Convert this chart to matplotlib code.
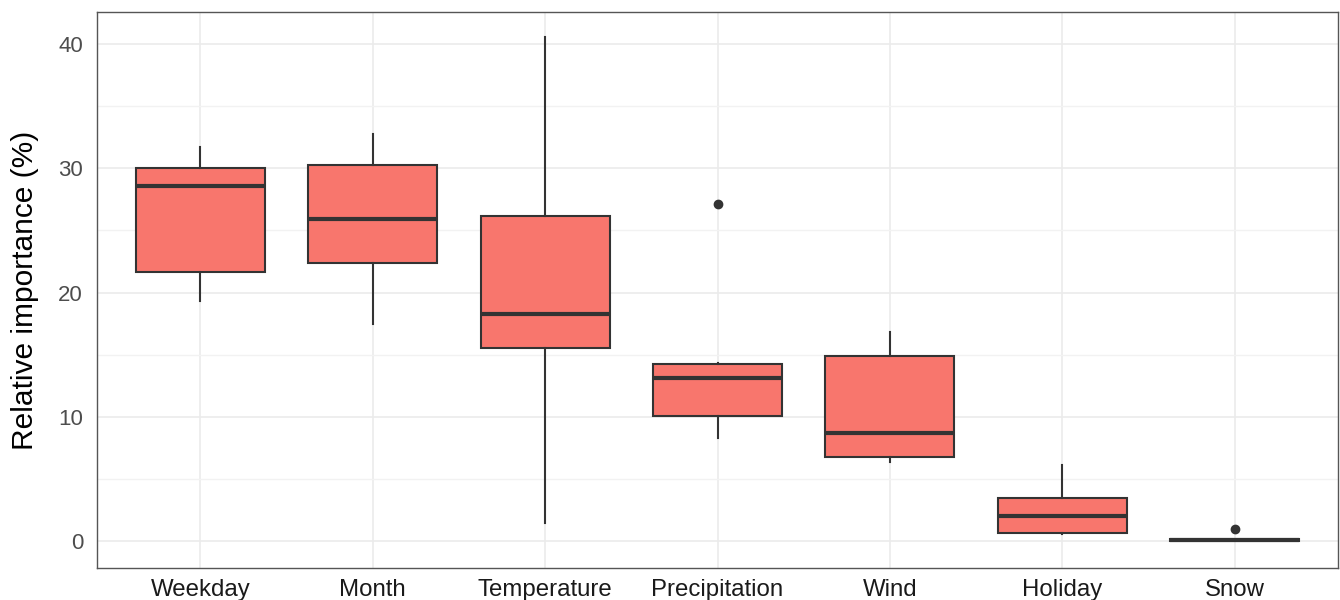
import matplotlib.pyplot as plt
from matplotlib.ticker import MultipleLocator

plt.rcParams['font.family'] = ['Liberation Sans', 'DejaVu Sans']

categories = ['Weekday', 'Month', 'Temperature', 'Precipitation', 'Wind', 'Holiday', 'Snow']
whis_low = [19.3, 17.5, 1.45, 8.3, 6.4, 0.6, 0.0]
q1 = [21.65, 22.4, 15.5, 10.1, 6.8, 0.65, 0.0]
median = [28.6, 25.9, 18.3, 13.1, 8.7, 2.0, 0.1]
q3 = [30.0, 30.3, 26.2, 14.25, 14.9, 3.5, 0.2]
whis_high = [31.7, 32.8, 40.6, 14.35, 16.8, 6.1, 0.2]
outliers = [[], [], [], [27.1], [], [], [1.0]]

stats = []
for i, name in enumerate(categories):
    stats.append(dict(label=name, whislo=whis_low[i], q1=q1[i], med=median[i],
                      q3=q3[i], whishi=whis_high[i], fliers=outliers[i]))

fig = plt.figure(figsize=(13.4, 6), dpi=100)
ax = fig.add_axes([97 / 1340, 32 / 600, (1338 - 97) / 1340, (568 - 12) / 600])

dark = '#333333'
ax.bxp(stats, positions=range(1, len(categories) + 1), widths=0.75, patch_artist=True,
       showcaps=False,
       boxprops=dict(facecolor='#F8766D', edgecolor=dark, linewidth=1.5),
       medianprops=dict(color=dark, linewidth=3),
       whiskerprops=dict(color=dark, linewidth=1.5),
       flierprops=dict(marker='o', markerfacecolor=dark, markeredgecolor=dark, markersize=6))

ax.set_xlim(0.4, 7.6)
ax.set_ylim(-2.17, 42.58)
ax.yaxis.set_major_locator(MultipleLocator(10))
ax.yaxis.set_minor_locator(MultipleLocator(5))
ax.set_xticks(range(1, len(categories) + 1))
ax.set_xticklabels(categories)

ax.grid(True, which='major', color='#ebebeb', linewidth=1.2)
ax.grid(True, which='minor', axis='y', color='#f2f2f2', linewidth=1.0)
ax.set_axisbelow(True)
for s in ax.spines.values():
    s.set_color('#555555')
    s.set_linewidth(1.0)

ax.tick_params(axis='both', which='both', length=0)
ax.tick_params(axis='y', colors='#4d4d4d', labelsize=16, pad=10)
ax.tick_params(axis='x', colors='#1a1a1a', labelsize=17.3, pad=8)
ax.set_ylabel('Relative importance (%)', fontsize=21.5, labelpad=14)

fig.savefig('out.png', dpi=100)
